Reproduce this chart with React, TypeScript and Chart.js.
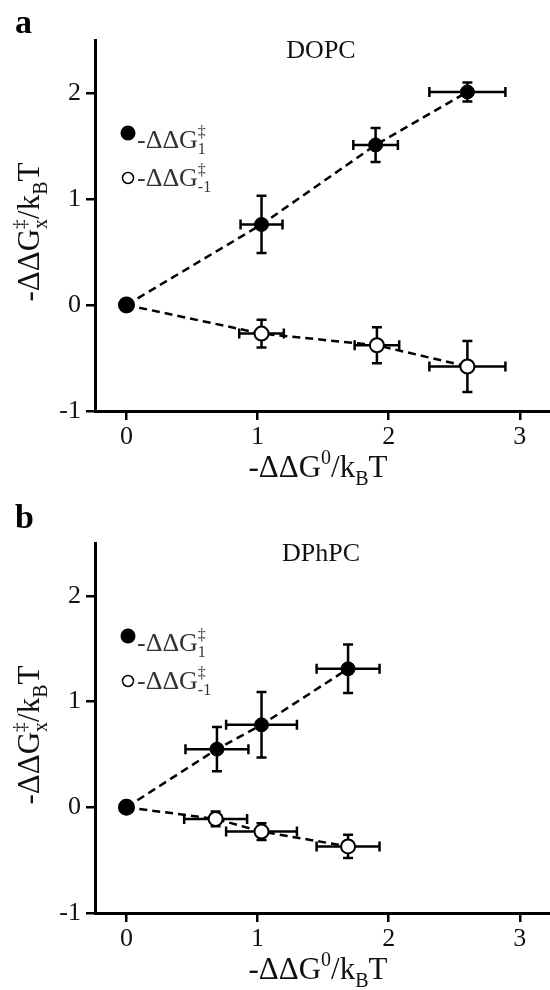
import React, { useEffect, useRef } from "react";
import { Chart, registerables } from "chart.js";
Chart.register(...registerables);

const FONT = "'Liberation Serif', 'Times New Roman', serif";

const xTickValues = [0, 1, 2, 3];
const yTickValues = [-1, 0, 1, 2];

// Panel a: DOPC
const dopcFwdX = [0, 1.03, 1.9, 2.6];
const dopcFwdY = [0, 0.76, 1.51, 2.01];
const dopcFwdXErr = [0, 0.16, 0.17, 0.29];
const dopcFwdYErr = [0, 0.27, 0.16, 0.09];
const dopcRevX = [0, 1.03, 1.91, 2.6];
const dopcRevY = [0, -0.27, -0.38, -0.58];
const dopcRevXErr = [0, 0.17, 0.17, 0.29];
const dopcRevYErr = [0, 0.13, 0.17, 0.24];

// Panel b: DPhPC
const dphpcFwdX = [0, 0.69, 1.03, 1.69];
const dphpcFwdY = [0, 0.55, 0.78, 1.31];
const dphpcFwdXErr = [0, 0.24, 0.27, 0.24];
const dphpcFwdYErr = [0, 0.21, 0.31, 0.23];
const dphpcRevX = [0, 0.68, 1.03, 1.69];
const dphpcRevY = [0, -0.11, -0.23, -0.37];
const dphpcRevXErr = [0, 0.24, 0.27, 0.24];
const dphpcRevYErr = [0, 0.07, 0.08, 0.11];

type Seg = { t: string; size: number; dy?: number; noAdvance?: boolean };

function richWidth(ctx: CanvasRenderingContext2D, segs: Seg[]) {
  let w = 0;
  for (const s of segs) {
    ctx.font = `${s.size}px ${FONT}`;
    if (!s.noAdvance) w += ctx.measureText(s.t).width;
  }
  return w;
}

function drawRich(ctx: CanvasRenderingContext2D, segs: Seg[], x: number, y: number) {
  let cx = x;
  ctx.textBaseline = "alphabetic";
  ctx.textAlign = "left";
  for (const s of segs) {
    ctx.font = `${s.size}px ${FONT}`;
    ctx.fillText(s.t, cx, y + (s.dy || 0));
    if (!s.noAdvance) cx += ctx.measureText(s.t).width;
  }
}

const yTitle: Seg[] = [
  { t: "-ΔΔG", size: 31 },
  { t: "‡", size: 19, dy: -13, noAdvance: true },
  { t: "x", size: 20, dy: 8 },
  { t: "/k", size: 31 },
  { t: "B", size: 20, dy: 8 },
  { t: "T", size: 31 },
];
const xTitle: Seg[] = [
  { t: "-ΔΔG", size: 31 },
  { t: "0", size: 20, dy: -13 },
  { t: "/k", size: 31 },
  { t: "B", size: 20, dy: 8 },
  { t: "T", size: 31 },
];
const legFwd: Seg[] = [
  { t: "-ΔΔG", size: 26 },
  { t: "‡", size: 16, dy: -11, noAdvance: true },
  { t: "1", size: 16, dy: 6 },
];
const legRev: Seg[] = [
  { t: "-ΔΔG", size: 26 },
  { t: "‡", size: 16, dy: -11, noAdvance: true },
  { t: "-1", size: 16, dy: 6 },
];

type PanelProps = {
  letter: string;
  name: string;
  fx: number[]; fy: number[]; fxe: number[]; fye: number[];
  rx: number[]; ry: number[]; rxe: number[]; rye: number[];
  top: number;
  bottomAxis: number;
};

function Panel(p: PanelProps) {
  const ref = useRef<HTMLCanvasElement>(null);
  useEffect(() => {
    document.body.style.margin = "0";
    const H = 495;
    const errPlugin = {
      id: "errbars",
      beforeDatasetsDraw(chart: any) {
        const ctx = chart.ctx;
        const xs = chart.scales.x, ys = chart.scales.y;
        ctx.save();
        ctx.strokeStyle = "#000";
        ctx.lineWidth = 2.5;
        const cap = 5;
        const sets = [
          [p.fx, p.fy, p.fxe, p.fye],
          [p.rx, p.ry, p.rxe, p.rye],
        ];
        for (const [X, Y, XE, YE] of sets) {
          for (let i = 0; i < X.length; i++) {
            const px = xs.getPixelForValue(X[i]);
            const py = ys.getPixelForValue(Y[i]);
            if (XE[i] > 0) {
              const l = xs.getPixelForValue(X[i] - XE[i]);
              const r = xs.getPixelForValue(X[i] + XE[i]);
              ctx.beginPath();
              ctx.moveTo(l, py); ctx.lineTo(r, py);
              ctx.moveTo(l, py - cap); ctx.lineTo(l, py + cap);
              ctx.moveTo(r, py - cap); ctx.lineTo(r, py + cap);
              ctx.stroke();
            }
            if (YE[i] > 0) {
              const t = ys.getPixelForValue(Y[i] + YE[i]);
              const b = ys.getPixelForValue(Y[i] - YE[i]);
              ctx.beginPath();
              ctx.moveTo(px, t); ctx.lineTo(px, b);
              ctx.moveTo(px - cap, t); ctx.lineTo(px + cap, t);
              ctx.moveTo(px - cap, b); ctx.lineTo(px + cap, b);
              ctx.stroke();
            }
          }
        }
        ctx.restore();
      },
      afterDraw(chart: any) {
        const ctx = chart.ctx;
        const area = chart.chartArea;
        ctx.save();
        ctx.fillStyle = "#000";
        // panel letter
        ctx.font = `bold 34px ${FONT}`;
        ctx.textAlign = "left";
        ctx.textBaseline = "alphabetic";
        ctx.fillText(p.letter, 15, 33);
        // membrane name
        ctx.font = `26px ${FONT}`;
        ctx.fillStyle = "#111";
        ctx.textAlign = "center";
        ctx.fillText(p.name, 321, area.top + 18);
        // legend
        ctx.fillStyle = "#000";
        ctx.beginPath();
        ctx.arc(128, area.top + 93, 7.5, 0, Math.PI * 2);
        ctx.fill();
        ctx.beginPath();
        ctx.arc(128, area.top + 138, 5.5, 0, Math.PI * 2);
        ctx.fillStyle = "#fff";
        ctx.fill();
        ctx.lineWidth = 1.5;
        ctx.strokeStyle = "#000";
        ctx.stroke();
        ctx.fillStyle = "#333";
        drawRich(ctx, legFwd, 137, area.top + 108);
        drawRich(ctx, legRev, 137, area.top + 146);
        // x title
        ctx.fillStyle = "#111";
        const xw = richWidth(ctx, xTitle);
        drawRich(ctx, xTitle, 318 - xw / 2, area.bottom + 66);
        // y title
        const yw = richWidth(ctx, yTitle);
        ctx.translate(39, area.top + 192);
        ctx.rotate(-Math.PI / 2);
        drawRich(ctx, yTitle, -yw / 2, 0);
        ctx.restore();
      },
    };
    const mk = (X: number[], Y: number[]) => X.map((v, i) => ({ x: v, y: Y[i] }));
    const axisCommon = (ticks: number[]) => ({
      type: "linear" as const,
      afterBuildTicks: (s: any) => {
        s.ticks = ticks.map((v) => ({ value: v }));
      },
      grid: {
        drawOnChartArea: false,
        drawTicks: true,
        tickLength: 9,
        color: "#000",
        lineWidth: 2.5,
      },
      border: { color: "#000", width: 3 },
      ticks: {
        font: { family: FONT, size: 26 },
        color: "#111",
        maxRotation: 0,
        autoSkip: false,
      },
    });
    const chart = new Chart(ref.current!, {
      type: "scatter",
      data: {
        datasets: [
          {
            data: mk(p.rx, p.ry),
            showLine: true,
            borderColor: "#000",
            borderWidth: 2.5,
            borderDash: [8, 5],
            pointRadius: (c: any) => (c.dataIndex === 0 ? 7.5 : 7),
            pointBackgroundColor: (c: any) => (c.dataIndex === 0 ? "#000" : "#fff"),
            pointBorderColor: "#000",
            pointBorderWidth: 2,
          },
          {
            data: mk(p.fx, p.fy),
            showLine: true,
            borderColor: "#000",
            borderWidth: 2.5,
            borderDash: [8, 5],
            pointRadius: (c: any) => (c.dataIndex === 0 ? 7.5 : 7),
            pointBackgroundColor: "#000",
            pointBorderColor: "#000",
            pointBorderWidth: 1,
          },
        ],
      },
      options: {
        animation: false,
        responsive: false,
        devicePixelRatio: 1,
        events: [],
        layout: { autoPadding: false, padding: { top: p.top, right: 0, bottom: 0, left: 0 } },
        plugins: { legend: { display: false }, tooltip: { enabled: false }, title: { display: false } },
        scales: {
          x: {
            ...axisCommon(xTickValues),
            min: -0.24,
            max: 3.23,
            afterFit: (s: any) => {
              s.height = H - p.bottomAxis;
              s.paddingLeft = 0;
              s.paddingRight = 0;
            },
            ticks: { ...axisCommon(xTickValues).ticks, padding: 2 },
          },
          y: {
            ...axisCommon(yTickValues),
            min: -1,
            max: 2.5,
            afterFit: (s: any) => {
              s.width = 95;
              s.paddingTop = 0;
              s.paddingBottom = 0;
            },
            ticks: { ...axisCommon(yTickValues).ticks, padding: 5 },
          },
        },
      },
      plugins: [errPlugin],
    } as any);
    return () => chart.destroy();
  }, []);
  return <canvas ref={ref} width={550} height={495} style={{ display: "block", width: 550, height: 495 }} />;
}

export default function App() {
  return (
    <div style={{ width: 550, height: 990, background: "#fff" }}>
      <Panel
        letter="a"
        name="DOPC"
        fx={dopcFwdX} fy={dopcFwdY} fxe={dopcFwdXErr} fye={dopcFwdYErr}
        rx={dopcRevX} ry={dopcRevY} rxe={dopcRevXErr} rye={dopcRevYErr}
        top={40}
        bottomAxis={411}
      />
      <Panel
        letter="b"
        name="DPhPC"
        fx={dphpcFwdX} fy={dphpcFwdY} fxe={dphpcFwdXErr} fye={dphpcFwdYErr}
        rx={dphpcRevX} ry={dphpcRevY} rxe={dphpcRevXErr} rye={dphpcRevYErr}
        top={48}
        bottomAxis={418}
      />
    </div>
  );
}
